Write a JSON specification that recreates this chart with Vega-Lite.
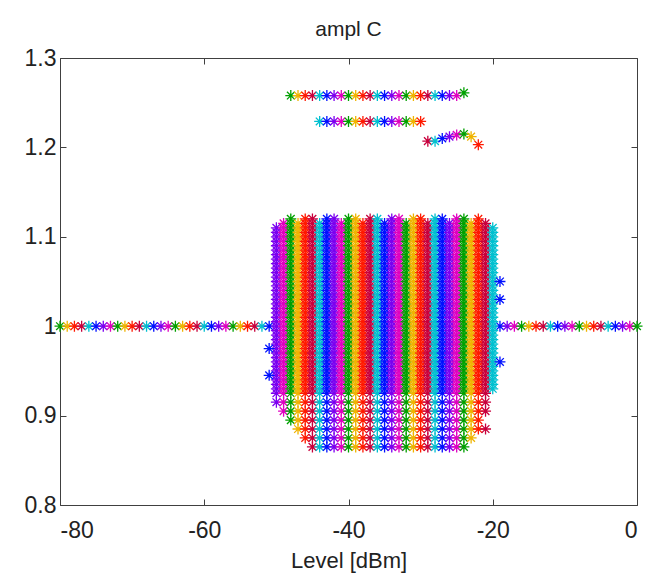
{
  "$schema": "https://vega.github.io/schema/vega-lite/v6.json",
  "autosize": "none",
  "padding": {"left": 60, "top": 58, "right": 10, "bottom": 77},
  "width": 577,
  "height": 447,
  "background": "white",
  "config": {
    "view": {"stroke": "#404040", "strokeWidth": 1},
    "font": "Liberation Sans",
    "axis": {"grid": false, "domain": false, "tickColor": "#404040", "tickSize": -6, "labelFontSize": 23, "labelColor": "#222", "titleFontSize": 22, "titleFontWeight": "normal", "titleColor": "#222", "labelFont": "Liberation Sans", "titleFont": "Liberation Sans", "labelExpr": "datum.value + ''"}
  },
  "title": {"text": "ampl C", "fontSize": 21, "fontWeight": "normal", "color": "#222", "offset": 7, "font": "Liberation Sans"},
  "layer": [
    {
      "data": {"values": [
        {"y": 1.0, "xs": [-80,-79,-78,-77,-76,-75,-74,-73,-72,-71,-70,-69,-68,-67,-66,-65,-64,-63,-62,-61,-60,-59,-58,-57,-56,-55,-54,-53,-52,-51]},
        {"y": 1.0, "xs": [-19,-18,-17,-16,-15,-14,-13,-12,-11,-10,-9,-8,-7,-6,-5,-4,-3,-2,-1,0]},
        {"y": 1.258, "xs": [-48,-47,-46,-45,-44,-43,-42,-41,-40,-39,-38,-37,-36,-35,-34,-33,-32,-31,-30,-29,-28,-27,-26,-25]},
        {"y": 1.261, "xs": [-24]},
        {"y": 1.229, "xs": [-44,-43,-42,-41,-40,-39,-38,-37,-36,-35,-34,-33,-32,-31,-30]},
        {"y": 1.207, "xs": [-29,-28]},
        {"y": 1.21, "xs": [-27]},
        {"y": 1.212, "xs": [-26]},
        {"y": 1.214, "xs": [-25]},
        {"y": 1.215, "xs": [-24]},
        {"y": 1.212, "xs": [-23]},
        {"y": 1.203, "xs": [-22]},
        {"y": 0.865, "xs": [-45,-44,-43,-42,-41,-40,-39,-38,-37,-36,-35,-34,-33,-32,-31,-30,-29,-28,-27,-26,-25,-24]},
        {"y": 0.875, "xs": [-46,-45,-44,-43,-42,-41,-40,-39,-38,-37,-36,-35,-34,-33,-32,-31,-30,-29,-28,-27,-26,-25,-24,-23]},
        {"y": 0.885, "xs": [-47,-46,-45,-44,-43,-42,-41,-40,-39,-38,-37,-36,-35,-34,-33,-32,-31,-30,-29,-28,-27,-26,-25,-24,-23,-22,-21]},
        {"y": 0.895, "xs": [-48,-47,-46,-45,-44,-43,-42,-41,-40,-39,-38,-37,-36,-35,-34,-33,-32,-31,-30,-29,-28,-27,-26,-25,-24,-23,-22]},
        {"y": 0.905, "xs": [-49,-48,-47,-46,-45,-44,-43,-42,-41,-40,-39,-38,-37,-36,-35,-34,-33,-32,-31,-30,-29,-28,-27,-26,-25,-24,-23,-22,-21]},
        {"y": 0.915, "xs": [-50,-49,-48,-47,-46,-45,-44,-43,-42,-41,-40,-39,-38,-37,-36,-35,-34,-33,-32,-31,-30,-29,-28,-27,-26,-25,-24,-23,-22,-21]},
        {"y": 0.925, "xs": [-50,-49,-48,-47,-46,-45,-44,-43,-42,-41,-40,-39,-38,-37,-36,-35,-34,-33,-32,-31,-30,-29,-28,-27,-26,-25,-24,-23,-22,-21]},
        {"y": 0.93, "xs": [-50,-49,-48,-47,-46,-45,-44,-43,-42,-41,-40,-39,-38,-37,-36,-35,-34,-33,-32,-31,-30,-29,-28,-27,-26,-25,-24,-23,-22,-21,-20]},
        {"y": 0.935, "xs": [-50,-49,-48,-47,-46,-45,-44,-43,-42,-41,-40,-39,-38,-37,-36,-35,-34,-33,-32,-31,-30,-29,-28,-27,-26,-25,-24,-23,-22,-21,-20]},
        {"y": 0.94, "xs": [-50,-49,-48,-47,-46,-45,-44,-43,-42,-41,-40,-39,-38,-37,-36,-35,-34,-33,-32,-31,-30,-29,-28,-27,-26,-25,-24,-23,-22,-21,-20]},
        {"y": 0.945, "xs": [-50,-49,-48,-47,-46,-45,-44,-43,-42,-41,-40,-39,-38,-37,-36,-35,-34,-33,-32,-31,-30,-29,-28,-27,-26,-25,-24,-23,-22,-21,-20]},
        {"y": 0.95, "xs": [-50,-49,-48,-47,-46,-45,-44,-43,-42,-41,-40,-39,-38,-37,-36,-35,-34,-33,-32,-31,-30,-29,-28,-27,-26,-25,-24,-23,-22,-21,-20]},
        {"y": 0.955, "xs": [-50,-49,-48,-47,-46,-45,-44,-43,-42,-41,-40,-39,-38,-37,-36,-35,-34,-33,-32,-31,-30,-29,-28,-27,-26,-25,-24,-23,-22,-21,-20]},
        {"y": 0.96, "xs": [-50,-49,-48,-47,-46,-45,-44,-43,-42,-41,-40,-39,-38,-37,-36,-35,-34,-33,-32,-31,-30,-29,-28,-27,-26,-25,-24,-23,-22,-21,-20]},
        {"y": 0.965, "xs": [-50,-49,-48,-47,-46,-45,-44,-43,-42,-41,-40,-39,-38,-37,-36,-35,-34,-33,-32,-31,-30,-29,-28,-27,-26,-25,-24,-23,-22,-21,-20]},
        {"y": 0.97, "xs": [-50,-49,-48,-47,-46,-45,-44,-43,-42,-41,-40,-39,-38,-37,-36,-35,-34,-33,-32,-31,-30,-29,-28,-27,-26,-25,-24,-23,-22,-21,-20]},
        {"y": 0.975, "xs": [-50,-49,-48,-47,-46,-45,-44,-43,-42,-41,-40,-39,-38,-37,-36,-35,-34,-33,-32,-31,-30,-29,-28,-27,-26,-25,-24,-23,-22,-21,-20]},
        {"y": 0.98, "xs": [-50,-49,-48,-47,-46,-45,-44,-43,-42,-41,-40,-39,-38,-37,-36,-35,-34,-33,-32,-31,-30,-29,-28,-27,-26,-25,-24,-23,-22,-21,-20]},
        {"y": 0.985, "xs": [-50,-49,-48,-47,-46,-45,-44,-43,-42,-41,-40,-39,-38,-37,-36,-35,-34,-33,-32,-31,-30,-29,-28,-27,-26,-25,-24,-23,-22,-21,-20]},
        {"y": 0.99, "xs": [-50,-49,-48,-47,-46,-45,-44,-43,-42,-41,-40,-39,-38,-37,-36,-35,-34,-33,-32,-31,-30,-29,-28,-27,-26,-25,-24,-23,-22,-21,-20]},
        {"y": 0.995, "xs": [-50,-49,-48,-47,-46,-45,-44,-43,-42,-41,-40,-39,-38,-37,-36,-35,-34,-33,-32,-31,-30,-29,-28,-27,-26,-25,-24,-23,-22,-21,-20]},
        {"y": 1.0, "xs": [-50,-49,-48,-47,-46,-45,-44,-43,-42,-41,-40,-39,-38,-37,-36,-35,-34,-33,-32,-31,-30,-29,-28,-27,-26,-25,-24,-23,-22,-21,-20]},
        {"y": 1.005, "xs": [-50,-49,-48,-47,-46,-45,-44,-43,-42,-41,-40,-39,-38,-37,-36,-35,-34,-33,-32,-31,-30,-29,-28,-27,-26,-25,-24,-23,-22,-21,-20]},
        {"y": 1.01, "xs": [-50,-49,-48,-47,-46,-45,-44,-43,-42,-41,-40,-39,-38,-37,-36,-35,-34,-33,-32,-31,-30,-29,-28,-27,-26,-25,-24,-23,-22,-21,-20]},
        {"y": 1.015, "xs": [-50,-49,-48,-47,-46,-45,-44,-43,-42,-41,-40,-39,-38,-37,-36,-35,-34,-33,-32,-31,-30,-29,-28,-27,-26,-25,-24,-23,-22,-21,-20]},
        {"y": 1.02, "xs": [-50,-49,-48,-47,-46,-45,-44,-43,-42,-41,-40,-39,-38,-37,-36,-35,-34,-33,-32,-31,-30,-29,-28,-27,-26,-25,-24,-23,-22,-21,-20]},
        {"y": 1.025, "xs": [-50,-49,-48,-47,-46,-45,-44,-43,-42,-41,-40,-39,-38,-37,-36,-35,-34,-33,-32,-31,-30,-29,-28,-27,-26,-25,-24,-23,-22,-21,-20]},
        {"y": 1.03, "xs": [-50,-49,-48,-47,-46,-45,-44,-43,-42,-41,-40,-39,-38,-37,-36,-35,-34,-33,-32,-31,-30,-29,-28,-27,-26,-25,-24,-23,-22,-21,-20]},
        {"y": 1.035, "xs": [-50,-49,-48,-47,-46,-45,-44,-43,-42,-41,-40,-39,-38,-37,-36,-35,-34,-33,-32,-31,-30,-29,-28,-27,-26,-25,-24,-23,-22,-21,-20]},
        {"y": 1.04, "xs": [-50,-49,-48,-47,-46,-45,-44,-43,-42,-41,-40,-39,-38,-37,-36,-35,-34,-33,-32,-31,-30,-29,-28,-27,-26,-25,-24,-23,-22,-21,-20]},
        {"y": 1.045, "xs": [-50,-49,-48,-47,-46,-45,-44,-43,-42,-41,-40,-39,-38,-37,-36,-35,-34,-33,-32,-31,-30,-29,-28,-27,-26,-25,-24,-23,-22,-21,-20]},
        {"y": 1.05, "xs": [-50,-49,-48,-47,-46,-45,-44,-43,-42,-41,-40,-39,-38,-37,-36,-35,-34,-33,-32,-31,-30,-29,-28,-27,-26,-25,-24,-23,-22,-21,-20]},
        {"y": 1.055, "xs": [-50,-49,-48,-47,-46,-45,-44,-43,-42,-41,-40,-39,-38,-37,-36,-35,-34,-33,-32,-31,-30,-29,-28,-27,-26,-25,-24,-23,-22,-21,-20]},
        {"y": 1.06, "xs": [-50,-49,-48,-47,-46,-45,-44,-43,-42,-41,-40,-39,-38,-37,-36,-35,-34,-33,-32,-31,-30,-29,-28,-27,-26,-25,-24,-23,-22,-21,-20]},
        {"y": 1.065, "xs": [-50,-49,-48,-47,-46,-45,-44,-43,-42,-41,-40,-39,-38,-37,-36,-35,-34,-33,-32,-31,-30,-29,-28,-27,-26,-25,-24,-23,-22,-21,-20]},
        {"y": 1.07, "xs": [-50,-49,-48,-47,-46,-45,-44,-43,-42,-41,-40,-39,-38,-37,-36,-35,-34,-33,-32,-31,-30,-29,-28,-27,-26,-25,-24,-23,-22,-21,-20]},
        {"y": 1.075, "xs": [-50,-49,-48,-47,-46,-45,-44,-43,-42,-41,-40,-39,-38,-37,-36,-35,-34,-33,-32,-31,-30,-29,-28,-27,-26,-25,-24,-23,-22,-21,-20]},
        {"y": 1.08, "xs": [-50,-49,-48,-47,-46,-45,-44,-43,-42,-41,-40,-39,-38,-37,-36,-35,-34,-33,-32,-31,-30,-29,-28,-27,-26,-25,-24,-23,-22,-21,-20]},
        {"y": 1.085, "xs": [-50,-49,-48,-47,-46,-45,-44,-43,-42,-41,-40,-39,-38,-37,-36,-35,-34,-33,-32,-31,-30,-29,-28,-27,-26,-25,-24,-23,-22,-21,-20]},
        {"y": 1.09, "xs": [-50,-49,-48,-47,-46,-45,-44,-43,-42,-41,-40,-39,-38,-37,-36,-35,-34,-33,-32,-31,-30,-29,-28,-27,-26,-25,-24,-23,-22,-21,-20]},
        {"y": 1.095, "xs": [-50,-49,-48,-47,-46,-45,-44,-43,-42,-41,-40,-39,-38,-37,-36,-35,-34,-33,-32,-31,-30,-29,-28,-27,-26,-25,-24,-23,-22,-21,-20]},
        {"y": 1.1, "xs": [-50,-49,-48,-47,-46,-45,-44,-43,-42,-41,-40,-39,-38,-37,-36,-35,-34,-33,-32,-31,-30,-29,-28,-27,-26,-25,-24,-23,-22,-21,-20]},
        {"y": 1.105, "xs": [-50,-49,-48,-47,-46,-45,-44,-43,-42,-41,-40,-39,-38,-37,-36,-35,-34,-33,-32,-31,-30,-29,-28,-27,-26,-25,-24,-23,-22,-21,-20]},
        {"y": 1.11, "xs": [-50,-49,-48,-47,-46,-45,-44,-43,-42,-41,-40,-39,-38,-37,-36,-35,-34,-33,-32,-31,-30,-29,-28,-27,-26,-25,-24,-23,-22,-21,-20]},
        {"y": 1.115, "xs": [-49,-48,-47,-46,-45,-44,-43,-42,-41,-40,-39,-38,-37,-36,-35,-34,-33,-32,-31,-30,-29,-28,-27,-26,-25,-24,-23,-22,-21]},
        {"y": 1.12, "xs": [-48,-46,-45,-43,-42,-40,-39,-37,-36,-34,-33,-31,-30,-28,-27,-25,-24,-22]},
        {"y": 1.05, "xs": [-19]},
        {"y": 1.03, "xs": [-19]},
        {"y": 0.96, "xs": [-19]},
        {"y": 0.945, "xs": [-51]},
        {"y": 0.975, "xs": [-51]}
      ]},
      "transform": [{"flatten": ["xs"], "as": ["x"]}],
      "mark": {"type": "point", "shape": "M-1,0L1,0M0,-1L0,1M-0.7,-0.7L0.7,0.7M-0.7,0.7L0.7,-0.7", "filled": false, "size": 121, "strokeWidth": 1.3, "opacity": 1},
      "encoding": {
        "x": {"field": "x", "type": "quantitative", "scale": {"domain": [-80, 0], "nice": false, "zero": false}, "axis": {"values": [-80, -60, -40, -20, 0], "title": "Level [dBm]", "labelPadding": 20, "titlePadding": 8}},
        "y": {"field": "y", "type": "quantitative", "scale": {"domain": [0.8, 1.3], "nice": false, "zero": false}, "axis": {"values": [0.8, 0.9, 1.0, 1.1, 1.2, 1.3], "title": null, "labelPadding": 10}},
        "color": {"field": "x", "type": "ordinal", "legend": null, "scale": {"range": ["#00a000", "#f0b400", "#ff1a00", "#c8003c", "#00c0d0", "#0010ff", "#7a00f0", "#e000c0"]}}
      }
    },
    {
      "data": {"values": [{"x": -80, "y": 0.8}]},
      "mark": {"type": "point", "opacity": 0},
      "encoding": {
        "x": {"field": "x", "type": "quantitative", "axis": {"orient": "top", "values": [-80, -60, -40, -20, 0], "labels": false, "title": null}},
        "y": {"field": "y", "type": "quantitative", "axis": {"orient": "right", "values": [0.8, 0.9, 1.0, 1.1, 1.2, 1.3], "labels": false, "title": null}}
      }
    }
  ],
  "resolve": {"axis": {"x": "independent", "y": "independent"}}
}
